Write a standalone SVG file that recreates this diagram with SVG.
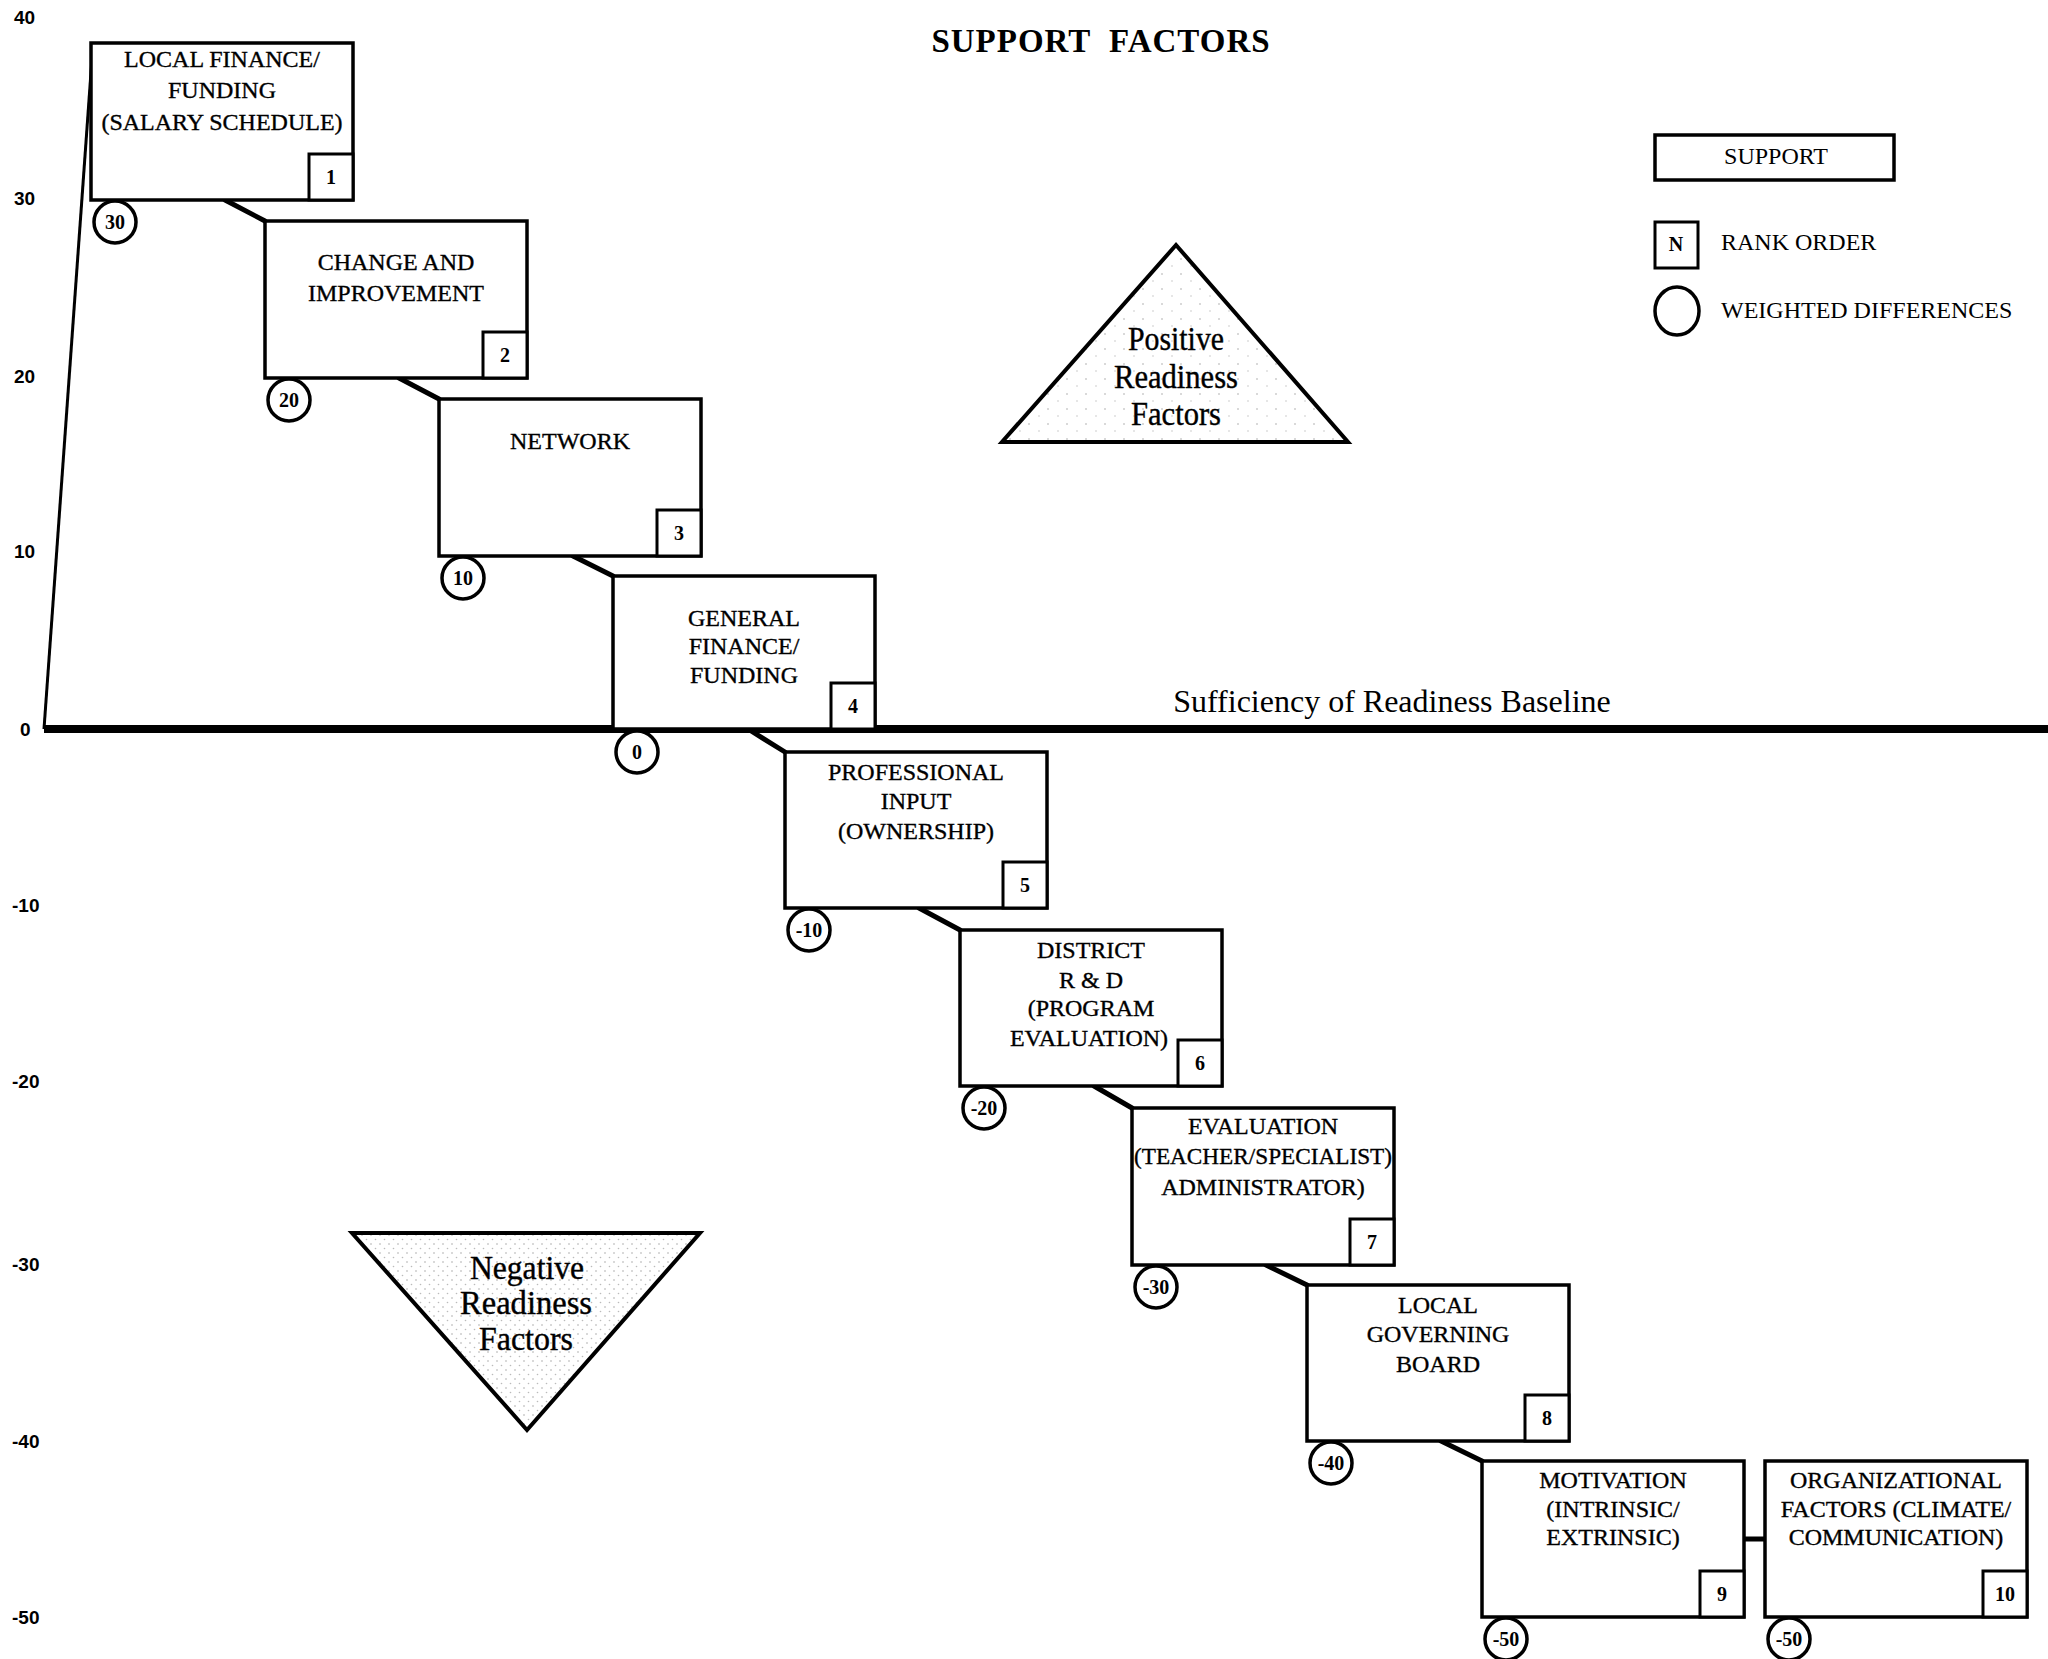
<svg xmlns="http://www.w3.org/2000/svg" width="2048" height="1659" viewBox="0 0 2048 1659">
  <style>
    .box { fill: #fff; stroke: #000; stroke-width: 3.5; }
    .rank { fill: #fff; stroke: #000; stroke-width: 3; }
    .wd { fill: #fff; stroke: #000; stroke-width: 3.5; }
    .lbl { font-family: "Liberation Serif", "Times New Roman", serif; font-size: 24px; fill: #000; stroke: #000; stroke-width: 0.35; text-anchor: middle; }
    .num { font-family: "Liberation Serif", "Times New Roman", serif; font-size: 20px; font-weight: bold; fill: #000; text-anchor: middle; }
    .cnum { font-family: "Liberation Serif", "Times New Roman", serif; font-size: 20px; font-weight: bold; fill: #000; text-anchor: middle; }
    .axis { font-family: "Liberation Sans", Arial, sans-serif; font-size: 19px; font-weight: bold; fill: #000; }
    .tri { stroke: #000; stroke-width: 4; stroke-linejoin: miter; }
    .trilbl { font-family: "Liberation Serif", "Times New Roman", serif; font-size: 33px; fill: #000; stroke: #000; stroke-width: 0.4; text-anchor: middle; }
    .conn line { stroke: #000; stroke-width: 5; stroke-linecap: round; }
    .leg { font-family: "Liberation Serif", "Times New Roman", serif; font-size: 24px; fill: #000; }
  </style>
  <defs>
    <pattern id="dotsLight" width="19" height="15" patternUnits="userSpaceOnUse">
      <rect width="19" height="15" fill="#fff"/>
      <circle cx="3" cy="4" r="0.8" fill="#aaa"/>
      <circle cx="13" cy="11" r="0.7" fill="#bbb"/>
    </pattern>
    <pattern id="dotsDense" width="9" height="9" patternUnits="userSpaceOnUse">
      <rect width="9" height="9" fill="#fff"/>
      <circle cx="2" cy="2" r="0.8" fill="#aaa"/>
      <circle cx="6.5" cy="6.5" r="0.8" fill="#bbb"/>
    </pattern>
  </defs>

  <rect width="2048" height="1659" fill="#fff"/>

  <!-- title -->
  <text x="1101" y="52" font-family="Liberation Serif, Times New Roman, serif" font-size="33" font-weight="bold" text-anchor="middle" letter-spacing="1" word-spacing="9">SUPPORT FACTORS</text>

  <!-- vertical scale -->
  <g id="scale">
    <text class="axis" x="14" y="24">40</text>
    <text class="axis" x="14" y="205">30</text>
    <text class="axis" x="14" y="383">20</text>
    <text class="axis" x="14" y="558">10</text>
    <text class="axis" x="20" y="736">0</text>
    <text class="axis" x="12" y="912">-10</text>
    <text class="axis" x="12" y="1088">-20</text>
    <text class="axis" x="12" y="1271">-30</text>
    <text class="axis" x="12" y="1448">-40</text>
    <text class="axis" x="12" y="1624">-50</text>
    <line x1="44" y1="729" x2="92" y2="58" stroke="#000" stroke-width="3"/>
  </g>

  <!-- sufficiency baseline -->
  <g id="baseline">
    <line x1="44" y1="729" x2="2048" y2="729" stroke="#000" stroke-width="8"/>
    <text x="1392" y="712" font-family="Liberation Serif, Times New Roman, serif" font-size="32" text-anchor="middle">Sufficiency of Readiness Baseline</text>
  </g>

  <!-- readiness triangles -->
  <g id="positive">
    <polygon class="tri" points="1176,245 1002,442 1348,442" fill="url(#dotsLight)"/>
    <text class="trilbl" x="1176" y="350" textLength="96" lengthAdjust="spacingAndGlyphs">Positive</text>
    <text class="trilbl" x="1176" y="388" textLength="124" lengthAdjust="spacingAndGlyphs">Readiness</text>
    <text class="trilbl" x="1176" y="425" textLength="90" lengthAdjust="spacingAndGlyphs">Factors</text>
  </g>
  <g id="negative">
    <polygon class="tri" points="352,1233 700,1233 527,1430" fill="url(#dotsDense)"/>
    <text class="trilbl" x="527" y="1279" textLength="114" lengthAdjust="spacingAndGlyphs" stroke-width="0.9">Negative</text>
    <text class="trilbl" x="526" y="1314" textLength="132" lengthAdjust="spacingAndGlyphs" stroke-width="0.9">Readiness</text>
    <text class="trilbl" x="526" y="1350" textLength="94" lengthAdjust="spacingAndGlyphs" stroke-width="0.9">Factors</text>
  </g>

  <!-- legend -->
  <g id="legend">
    <rect class="box" x="1655" y="135" width="239" height="45"/>
    <text class="leg" x="1776" y="164" text-anchor="middle" font-size="22">SUPPORT</text>
    <rect class="rank" x="1655" y="222" width="43" height="46"/>
    <text class="num" x="1676" y="251">N</text>
    <text class="leg" x="1721" y="250">RANK ORDER</text>
    <ellipse class="wd" cx="1677" cy="311" rx="22" ry="24"/>
    <text class="leg" x="1721" y="318">WEIGHTED DIFFERENCES</text>
  </g>

  <!-- connectors between successive factors -->
  <g id="connectors" class="conn">
    <line x1="225" y1="200" x2="265" y2="221"/>
    <line x1="399" y1="378" x2="439" y2="399"/>
    <line x1="573" y1="556" x2="613" y2="576"/>
    <line x1="748" y1="729" x2="785" y2="752"/>
    <line x1="919" y1="908" x2="960" y2="930"/>
    <line x1="1094" y1="1086" x2="1132" y2="1108"/>
    <line x1="1266" y1="1265" x2="1307" y2="1285"/>
    <line x1="1441" y1="1441" x2="1482" y2="1461"/>
    <line x1="1744" y1="1539" x2="1765" y2="1539"/>
  </g>

  <!-- factor nodes -->
  <g id="factor-1">
    <rect class="box" x="91" y="43" width="262" height="157"/>
    <text class="lbl" x="222" y="67">LOCAL FINANCE/</text>
    <text class="lbl" x="222" y="98">FUNDING</text>
    <text class="lbl" x="222" y="130">(SALARY SCHEDULE)</text>
    <rect class="rank" x="309" y="154" width="44" height="46"/>
    <text class="num" x="331" y="184">1</text>
    <circle class="wd" cx="115" cy="222" r="21"/>
    <text class="cnum" x="115" y="229">30</text>
  </g>

  <g id="factor-2">
    <rect class="box" x="265" y="221" width="262" height="157"/>
    <text class="lbl" x="396" y="270">CHANGE AND</text>
    <text class="lbl" x="396" y="301">IMPROVEMENT</text>
    <rect class="rank" x="483" y="332" width="44" height="46"/>
    <text class="num" x="505" y="362">2</text>
    <circle class="wd" cx="289" cy="400" r="21"/>
    <text class="cnum" x="289" y="407">20</text>
  </g>

  <g id="factor-3">
    <rect class="box" x="439" y="399" width="262" height="157"/>
    <text class="lbl" x="570" y="449">NETWORK</text>
    <rect class="rank" x="657" y="510" width="44" height="46"/>
    <text class="num" x="679" y="540">3</text>
    <circle class="wd" cx="463" cy="578" r="21"/>
    <text class="cnum" x="463" y="585">10</text>
  </g>

  <g id="factor-4">
    <rect class="box" x="613" y="576" width="262" height="153"/>
    <text class="lbl" x="744" y="626">GENERAL</text>
    <text class="lbl" x="744" y="654">FINANCE/</text>
    <text class="lbl" x="744" y="683">FUNDING</text>
    <rect class="rank" x="831" y="683" width="44" height="46"/>
    <text class="num" x="853" y="713">4</text>
    <circle class="wd" cx="637" cy="752" r="21"/>
    <text class="cnum" x="637" y="759">0</text>
  </g>

  <g id="factor-5">
    <rect class="box" x="785" y="752" width="262" height="156"/>
    <text class="lbl" x="916" y="780">PROFESSIONAL</text>
    <text class="lbl" x="916" y="809">INPUT</text>
    <text class="lbl" x="916" y="839">(OWNERSHIP)</text>
    <rect class="rank" x="1003" y="862" width="44" height="46"/>
    <text class="num" x="1025" y="892">5</text>
    <circle class="wd" cx="809" cy="930" r="21"/>
    <text class="cnum" x="809" y="937">-10</text>
  </g>

  <g id="factor-6">
    <rect class="box" x="960" y="930" width="262" height="156"/>
    <text class="lbl" x="1091" y="958">DISTRICT</text>
    <text class="lbl" x="1091" y="988">R &amp; D</text>
    <text class="lbl" x="1091" y="1016">(PROGRAM</text>
    <text class="lbl" x="1089" y="1046">EVALUATION)</text>
    <rect class="rank" x="1178" y="1040" width="44" height="46"/>
    <text class="num" x="1200" y="1070">6</text>
    <circle class="wd" cx="984" cy="1108" r="21"/>
    <text class="cnum" x="984" y="1115">-20</text>
  </g>

  <g id="factor-7">
    <rect class="box" x="1132" y="1108" width="262" height="157"/>
    <text class="lbl" x="1263" y="1134">EVALUATION</text>
    <text class="lbl" x="1263" y="1164" textLength="258" lengthAdjust="spacingAndGlyphs">(TEACHER/SPECIALIST)</text>
    <text class="lbl" x="1263" y="1195">ADMINISTRATOR)</text>
    <rect class="rank" x="1350" y="1219" width="44" height="46"/>
    <text class="num" x="1372" y="1249">7</text>
    <circle class="wd" cx="1156" cy="1287" r="21"/>
    <text class="cnum" x="1156" y="1294">-30</text>
  </g>

  <g id="factor-8">
    <rect class="box" x="1307" y="1285" width="262" height="156"/>
    <text class="lbl" x="1438" y="1313">LOCAL</text>
    <text class="lbl" x="1438" y="1342">GOVERNING</text>
    <text class="lbl" x="1438" y="1372">BOARD</text>
    <rect class="rank" x="1525" y="1395" width="44" height="46"/>
    <text class="num" x="1547" y="1425">8</text>
    <circle class="wd" cx="1331" cy="1463" r="21"/>
    <text class="cnum" x="1331" y="1470">-40</text>
  </g>

  <g id="factor-9">
    <rect class="box" x="1482" y="1461" width="262" height="156"/>
    <text class="lbl" x="1613" y="1488">MOTIVATION</text>
    <text class="lbl" x="1613" y="1517">(INTRINSIC/</text>
    <text class="lbl" x="1613" y="1545">EXTRINSIC)</text>
    <rect class="rank" x="1700" y="1571" width="44" height="46"/>
    <text class="num" x="1722" y="1601">9</text>
    <circle class="wd" cx="1506" cy="1639" r="21"/>
    <text class="cnum" x="1506" y="1646">-50</text>
  </g>

  <g id="factor-10">
    <rect class="box" x="1765" y="1461" width="262" height="156"/>
    <text class="lbl" x="1896" y="1488">ORGANIZATIONAL</text>
    <text class="lbl" x="1896" y="1517">FACTORS (CLIMATE/</text>
    <text class="lbl" x="1896" y="1545">COMMUNICATION)</text>
    <rect class="rank" x="1983" y="1571" width="44" height="46"/>
    <text class="num" x="2005" y="1601">10</text>
    <circle class="wd" cx="1789" cy="1639" r="21"/>
    <text class="cnum" x="1789" y="1646">-50</text>
  </g>
</svg>
